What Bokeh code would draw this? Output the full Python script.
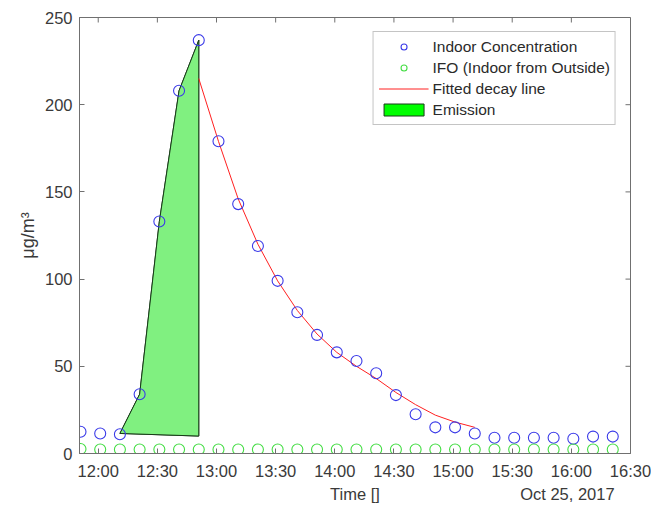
import math
import pandas as pd
from bokeh.plotting import figure
from bokeh.models import (FixedTicker, DatetimeTickFormatter, DatetimeAxis, Range1d, Legend,
                          LegendItem, ColumnDataSource)
from bokeh.embed import file_html
from bokeh.resources import INLINE

DAY = "2017-10-25"

sample_times = ["11:51", "12:01", "12:11", "12:21", "12:31", "12:41", "12:51",
                "13:01", "13:11", "13:21", "13:31", "13:41", "13:51", "14:01",
                "14:11", "14:21", "14:31", "14:41", "14:51", "15:01", "15:11",
                "15:21", "15:31", "15:41", "15:51", "16:01", "16:11", "16:21"]
indoor = [12.5, 11.5, 11, 34, 133, 208, 237,
          179, 143, 119, 99, 81, 68, 58,
          53, 46, 33.5, 22.5, 15, 15, 11.5,
          9, 9, 9, 9, 8.5, 9.7, 9.7]
ifo = [2.6, 2.3, 2.3, 2.3, 2.3, 2.3, 2.3,
       2.3, 2.3, 2.3, 2.3, 2.3, 2.3, 2.3,
       2.3, 2.3, 2.3, 2.3, 2.3, 2.3, 2.3,
       2.3, 2.3, 2.3, 2.3, 2.3, 2.3, 2.3]

fit_times = ["12:51", "13:01", "13:11", "13:21", "13:31", "13:41", "13:51", "14:01",
             "14:11", "14:21", "14:31", "14:41", "14:51", "15:01", "15:11"]
fit_values = [215, 179, 146, 120, 99, 82, 68.5, 58, 50, 43, 35, 28, 22, 18, 15]

emission_times = ["12:11", "12:21", "12:31", "12:41", "12:51", "12:51"]
emission_values = [11.5, 34, 133, 208, 237, 10]

tick_labels = ["12:00", "12:30", "13:00", "13:30", "14:00", "14:30",
               "15:00", "15:30", "16:00", "16:30"]
y_ticks = [0, 50, 100, 150, 200, 250]
x_start, x_end = "11:50:30", "16:30"
x_title = "Time []"
date_label = "Oct 25, 2017"
date_label_at = "15:58"


def ts(t):
    return pd.Timestamp(f"{DAY} {t}")


def ms(t):
    return int(pd.Timestamp(f"{DAY} {t}").value // 10**6)


FONT = "Liberation Sans"
AXC = "#707070"
TXT = "#3a3a3a"

p = figure(width=651, height=506, x_axis_type="datetime",
           output_backend="svg", toolbar_location=None,
           x_range=Range1d(ms(x_start), ms(x_end)), y_range=Range1d(0, 250),
           min_border_left=79, min_border_right=21, min_border_top=17, min_border_bottom=53)
p.xgrid.visible = False
p.ygrid.visible = False
p.outline_line_color = AXC
p.background_fill_color = "white"
p.border_fill_color = "white"

ticker = FixedTicker(ticks=[ms(t) for t in tick_labels])
fmt = DatetimeTickFormatter(minutes="%H:%M", hourmin="%H:%M", hours="%H:%M",
                            minsec="%H:%M", seconds="%H:%M", days="%H:%M")

xa = p.xaxis[0]
xa.ticker = ticker
xa.formatter = fmt
ya = p.yaxis[0]
ya.ticker = FixedTicker(ticks=y_ticks)
ya.axis_label = "μg/m³"

for ax in (xa, ya):
    ax.axis_line_color = AXC
    ax.major_tick_line_color = AXC
    ax.major_tick_in = 5
    ax.major_tick_out = 0
    ax.minor_tick_line_color = None
    ax.major_label_text_font = FONT
    ax.major_label_text_font_size = "16.5px"
    ax.major_label_text_color = TXT
    ax.axis_label_text_font = FONT
    ax.axis_label_text_font_size = "18px"
    ax.axis_label_text_font_style = "normal"
    ax.axis_label_text_color = TXT
xa.major_label_standoff = 8
ya.major_label_standoff = 7
ya.axis_label_standoff = 4

# second row below the ticks: axis title centred and the date on the right
mid = (ms(x_start) + ms(x_end)) // 2
row2 = DatetimeAxis(ticker=FixedTicker(ticks=[mid, ms(date_label_at)]), formatter=fmt,
                    major_label_overrides={mid: x_title, ms(date_label_at): date_label})
row2.axis_line_color = None
row2.major_tick_line_color = None
row2.minor_tick_line_color = None
row2.major_tick_in = 0
row2.major_tick_out = 0
row2.major_label_standoff = 2
row2.major_label_text_font = FONT
row2.major_label_text_font_size = "16.5px"
row2.major_label_text_color = TXT
p.add_layout(row2, "below")

# box ticks on the top and right edges (inward), drawn from the tick arrays
p.ray(x=[ts(t) for t in tick_labels], y=[y_ticks[-1]] * len(tick_labels), length=5,
      length_units="screen", angle=-math.pi / 2, line_color=AXC, line_width=1)
p.ray(x=[ts(tick_labels[-1])] * len(y_ticks), y=y_ticks, length=5,
      length_units="screen", angle=math.pi, line_color=AXC, line_width=1)

em_src = ColumnDataSource(dict(x=[ts(t) for t in emission_times], y=emission_values))
em_legend = p.patch("x", "y", source=em_src, fill_color="#00ff00", fill_alpha=1.0,
                    line_color="#1a3a1a", line_width=1)
em = p.patch("x", "y", source=em_src, fill_color="#80f080", fill_alpha=1.0,
             line_color="#1a3a1a", line_width=1)

fit_src = ColumnDataSource(dict(x=[ts(t) for t in fit_times], y=fit_values))
fit = p.line("x", "y", source=fit_src, line_color="#ff2020", line_width=1)

pts = ColumnDataSource(dict(x=[ts(t) for t in sample_times], indoor=indoor, ifo=ifo))
ind = p.scatter("x", "indoor", source=pts, marker="circle", size=11,
                fill_color=None, line_color="#3a3ae8", line_width=1.1)
ifo_r = p.scatter("x", "ifo", source=pts, marker="circle", size=11,
                  fill_color=None, line_color="#44dd44", line_width=1.1)

legend = Legend(items=[
    LegendItem(label="Indoor Concentration", renderers=[ind]),
    LegendItem(label="IFO (Indoor from Outside)", renderers=[ifo_r]),
    LegendItem(label="Fitted decay line", renderers=[fit]),
    LegendItem(label="Emission", renderers=[em_legend]),
], location="top_right")
legend.margin = 14
legend.padding = 5
legend.spacing = 2
legend.label_height = 19
legend.glyph_height = 15
legend.glyph_width = 50
legend.label_standoff = 4
legend.label_text_font = FONT
legend.label_text_font_size = "15.5px"
legend.label_text_color = "#2a2a2a"
legend.border_line_color = "#8a8a8a"
legend.border_line_width = 1
legend.background_fill_alpha = 1.0
p.add_layout(legend, "center")

open("out.html", "w").write(file_html(p, INLINE))
